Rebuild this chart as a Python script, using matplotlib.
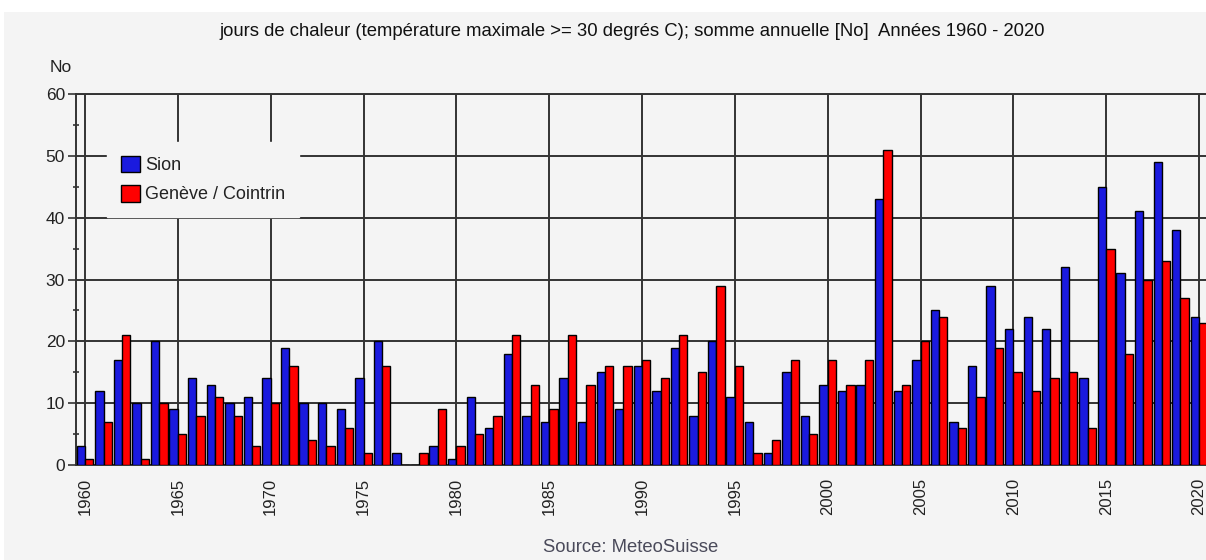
import matplotlib
matplotlib.use("Agg")
import matplotlib.pyplot as plt
from matplotlib.patches import Rectangle
from matplotlib.ticker import MultipleLocator
import numpy as np

years = list(range(1960, 2021))
sion = [3, 12, 17, 10, 20, 9, 14, 13, 10, 11,
        14, 19, 10, 10, 9, 14, 20, 2, 0, 3,
        1, 11, 6, 18, 8, 7, 14, 7, 15, 9,
        16, 12, 19, 8, 20, 11, 7, 2, 15, 8,
        13, 12, 13, 43, 12, 17, 25, 7, 16, 29,
        22, 24, 22, 32, 14, 45, 31, 41, 49, 38,
        24]
geneve = [1, 7, 21, 1, 10, 5, 8, 11, 8, 3,
          10, 16, 4, 3, 6, 2, 16, 0, 2, 9,
          3, 5, 8, 21, 13, 9, 21, 13, 16, 16,
          17, 14, 21, 15, 29, 16, 2, 4, 17, 5,
          17, 13, 17, 51, 13, 20, 24, 6, 11, 19,
          15, 12, 14, 15, 6, 35, 18, 30, 33, 27,
          23]
xtick_years = list(range(1960, 2021, 5))
series_names = ["Sion", "Genève / Cointrin"]
title = "jours de chaleur (température maximale >= 30 degrés C); somme annuelle [No]  Années 1960 - 2020"

plt.rcParams['font.family'] = ['Liberation Sans', 'DejaVu Sans']

W, H = 1206, 560
fig = plt.figure(figsize=(W / 100, H / 100), dpi=100, facecolor="white")
bg = "#f4f4f4"
fig.patches.append(Rectangle((4 / W, 0), 1, 1 - 12 / H, transform=fig.transFigure,
                             facecolor=bg, edgecolor="none", zorder=-10))

left, right = 76 / W, 1.0
bottom, top = 1 - 465 / H, 1 - 94 / H
ax = fig.add_axes([left, bottom, right - left, top - bottom])
ax.set_facecolor(bg)

x = np.array(years, dtype=float)
bw = 0.45
ax.bar(x - bw / 2, sion, width=bw, color="#1a1adf", edgecolor="black", linewidth=1.0,
       label=series_names[0], zorder=3)
ax.bar(x + bw / 2, geneve, width=bw, color="#ff0000", edgecolor="black", linewidth=1.0,
       label=series_names[1], zorder=3)

ax.set_xlim(1960 - 9 / 18.567, 1960 + (1206 - 85) / 18.567)
ax.set_ylim(0, 60)
ax.set_yticks(range(0, 61, 10))
ax.yaxis.set_minor_locator(MultipleLocator(5))
ax.set_xticks(xtick_years)
ax.set_xticklabels([str(y) for y in xtick_years], rotation=90, va="top", ha="center")
ax.tick_params(axis="x", length=0, pad=9, labelsize=12, labelcolor="#222222")
ax.tick_params(axis="y", which="major", length=6, width=1.2, color="#333333", pad=2,
               labelsize=12.5, labelcolor="#222222")
ax.tick_params(axis="y", which="minor", length=4, width=1.2, color="#333333", direction="inout")

ax.grid(True, which="major", color="#333333", linewidth=1.4, zorder=1)
ax.set_axisbelow(True)
ax.spines["right"].set_visible(False)
for s in ["left", "bottom", "top"]:
    ax.spines[s].set_color("#333333")
    ax.spines[s].set_linewidth(1.4)

leg = ax.legend(loc="upper left", bbox_to_anchor=(107 / W, 1 - 142 / H),
                bbox_transform=fig.transFigure, frameon=True, fancybox=False,
                facecolor=bg, edgecolor=bg, framealpha=1, fontsize=13,
                handlelength=1.05, handleheight=1.05, handletextpad=0.3,
                labelspacing=0.6, borderpad=0.75, borderaxespad=0)
for t in leg.get_texts():
    t.set_color("#222222")
leg.set_zorder(10)

fig.text(632 / W, 1 - 31 / H, title, ha="center", va="center", fontsize=13.3, color="#111111")
fig.text(50 / W, 1 - 68 / H, "No", ha="left", va="center", fontsize=12.5, color="#222222")
fig.text(631 / W, 1 - 548 / H, "Source: MeteoSuisse", ha="center", va="center",
         fontsize=13.3, color="#4a4a5a")

fig.savefig("out.png", dpi=100, facecolor="white")
